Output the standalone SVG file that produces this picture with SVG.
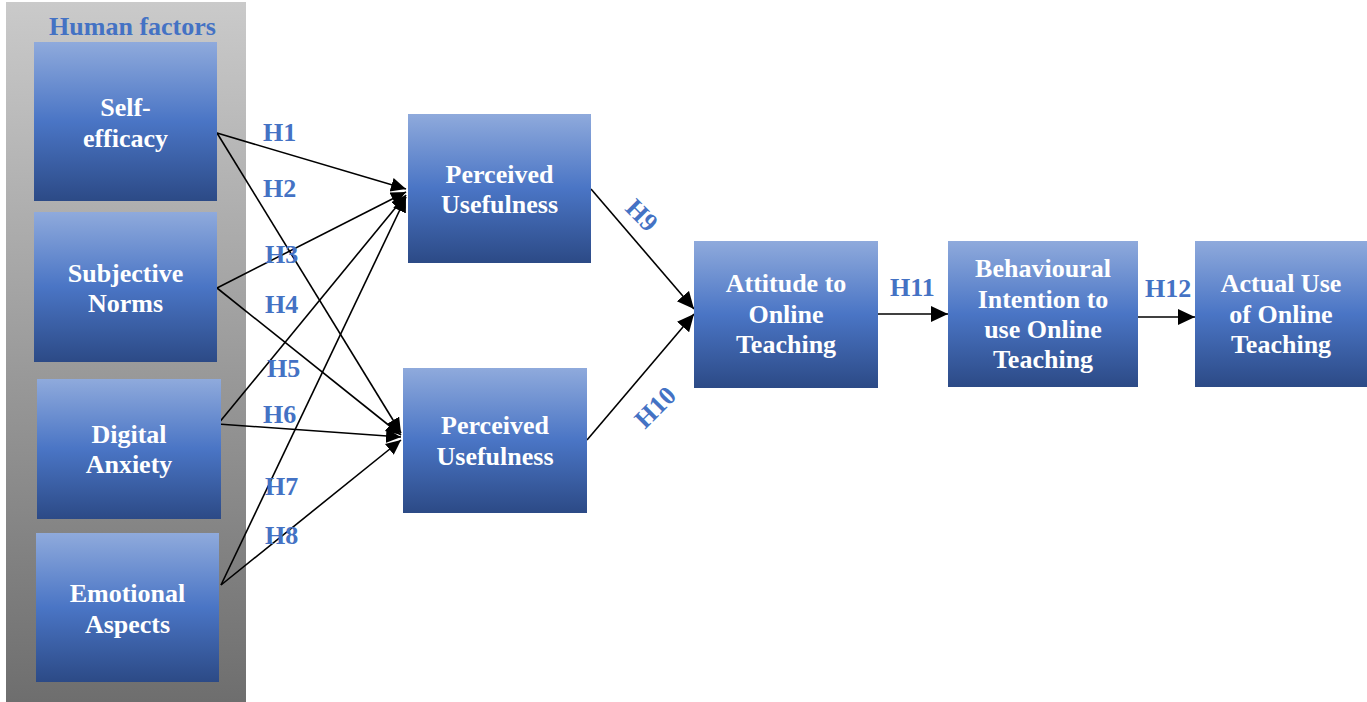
<svg xmlns="http://www.w3.org/2000/svg" width="1367" height="702" viewBox="0 0 1367 702">
<defs>
<linearGradient id="boxg" x1="0" y1="0" x2="0" y2="1">
<stop offset="0" stop-color="#8faadc"/>
<stop offset="0.5" stop-color="#4a75c5"/>
<stop offset="1" stop-color="#2c4a86"/>
</linearGradient>
<linearGradient id="panelg" x1="0" y1="0" x2="0" y2="1">
<stop offset="0" stop-color="#cacaca"/>
<stop offset="1" stop-color="#6e6e6e"/>
</linearGradient>
<marker id="ah" markerUnits="userSpaceOnUse" markerWidth="20" markerHeight="18" refX="17" refY="8" orient="auto">
<path d="M0,0 L17,8 L0,16 Z" fill="#000"/>
</marker>
<marker id="ahs" markerUnits="userSpaceOnUse" markerWidth="18" markerHeight="16" refX="15" refY="7" orient="auto">
<path d="M0,0 L15,7 L0,14 Z" fill="#000"/>
</marker>
</defs>
<style>
.box{fill:url(#boxg);}
.t{font-family:"Liberation Serif","Times New Roman",serif;font-weight:bold;font-size:26px;fill:#ffffff;text-anchor:middle;}
.lbl{font-family:"Liberation Serif","Times New Roman",serif;font-weight:bold;font-size:26px;fill:#4472c4;}
.ln{stroke:#000;stroke-width:1.6;fill:none;}
</style>
<rect x="6" y="2" width="240" height="700" fill="url(#panelg)"/>
<text class="lbl" x="132.5" y="35" text-anchor="middle">Human factors</text>

<g id="connectors">
<line class="ln" x1="217" y1="133" x2="406" y2="189" marker-end="url(#ahs)"/>
<line class="ln" x1="217" y1="133" x2="401" y2="433" marker-end="url(#ahs)"/>
<line class="ln" x1="217" y1="288" x2="406" y2="192" marker-end="url(#ahs)"/>
<line class="ln" x1="217" y1="288" x2="401" y2="435" marker-end="url(#ahs)"/>
<line class="ln" x1="218" y1="424" x2="406" y2="195" marker-end="url(#ahs)"/>
<line class="ln" x1="218" y1="424" x2="401" y2="437" marker-end="url(#ahs)"/>
<line class="ln" x1="221" y1="585" x2="406" y2="197" marker-end="url(#ahs)"/>
<line class="ln" x1="221" y1="585" x2="401" y2="440" marker-end="url(#ahs)"/>
<line class="ln" x1="591" y1="189" x2="694" y2="309" marker-end="url(#ah)"/>
<line class="ln" x1="587" y1="440" x2="694" y2="314" marker-end="url(#ah)"/>
<line class="ln" x1="878" y1="314" x2="948" y2="314" marker-end="url(#ah)"/>
<line class="ln" x1="1138" y1="317" x2="1195" y2="317" marker-end="url(#ah)"/>
</g>

<g id="labels">
<text class="lbl" x="263" y="141">H1</text>
<text class="lbl" x="263" y="197">H2</text>
<text class="lbl" x="265" y="263">H3</text>
<text class="lbl" x="265" y="313">H4</text>
<text class="lbl" x="267" y="377">H5</text>
<text class="lbl" x="263" y="423">H6</text>
<text class="lbl" x="265" y="495">H7</text>
<text class="lbl" x="265" y="544">H8</text>
<text class="lbl" transform="translate(642,215) rotate(45)" x="0" y="9" text-anchor="middle">H9</text>
<text class="lbl" transform="translate(655,407) rotate(-45)" x="0" y="9" text-anchor="middle">H10</text>
<text class="lbl" x="890" y="296">H11</text>
<text class="lbl" x="1145" y="297">H12</text>
</g>

<g id="self-efficacy">
<rect class="box" x="34" y="42" width="183" height="159"/>
<text class="t"><tspan x="125.5" y="116">Self-</tspan><tspan x="125.5" y="147">efficacy</tspan></text>
</g>
<g id="subjective-norms">
<rect class="box" x="34" y="212" width="183" height="150"/>
<text class="t"><tspan x="125.5" y="282">Subjective</tspan><tspan x="125.5" y="312">Norms</tspan></text>
</g>
<g id="digital-anxiety">
<rect class="box" x="37" y="379" width="184" height="140"/>
<text class="t"><tspan x="129" y="443">Digital</tspan><tspan x="129" y="473">Anxiety</tspan></text>
</g>
<g id="emotional-aspects">
<rect class="box" x="36" y="533" width="183" height="149"/>
<text class="t"><tspan x="127.5" y="602">Emotional</tspan><tspan x="127.5" y="633">Aspects</tspan></text>
</g>
<g id="perceived-usefulness-1">
<rect class="box" x="408" y="114" width="183" height="149"/>
<text class="t"><tspan x="499.5" y="183">Perceived</tspan><tspan x="499.5" y="213">Usefulness</tspan></text>
</g>
<g id="perceived-usefulness-2">
<rect class="box" x="403" y="368" width="184" height="145"/>
<text class="t"><tspan x="495" y="434">Perceived</tspan><tspan x="495" y="465">Usefulness</tspan></text>
</g>
<g id="attitude">
<rect class="box" x="694" y="241" width="184" height="147"/>
<text class="t"><tspan x="786" y="292">Attitude to</tspan><tspan x="786" y="323">Online</tspan><tspan x="786" y="353">Teaching</tspan></text>
</g>
<g id="behavioural-intention">
<rect class="box" x="948" y="241" width="190" height="146"/>
<text class="t"><tspan x="1043" y="277">Behavioural</tspan><tspan x="1043" y="308">Intention to</tspan><tspan x="1043" y="338">use Online</tspan><tspan x="1043" y="368">Teaching</tspan></text>
</g>
<g id="actual-use">
<rect class="box" x="1195" y="241" width="172" height="146"/>
<text class="t"><tspan x="1281" y="292">Actual Use</tspan><tspan x="1281" y="323">of Online</tspan><tspan x="1281" y="353">Teaching</tspan></text>
</g>
</svg>
